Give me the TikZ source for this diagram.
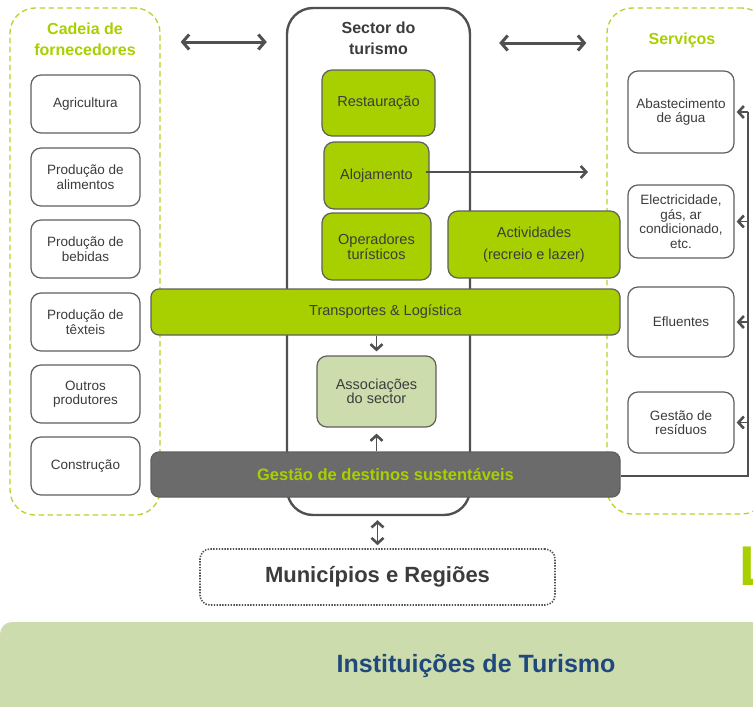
\documentclass[tikz,border=0pt]{standalone}
\usepackage{fontspec}
\setmainfont{Liberation Sans}
\usetikzlibrary{arrows.meta}
\definecolor{lime}{RGB}{168,207,0}
\definecolor{dashlime}{RGB}{178,212,40}
\definecolor{edge}{RGB}{95,95,95}
\definecolor{txt}{RGB}{60,60,60}
\definecolor{darkbar}{RGB}{107,107,107}
\definecolor{pale}{RGB}{205,220,173}
\definecolor{navy}{RGB}{31,73,125}
\definecolor{linegray}{RGB}{80,80,80}
\newcommand{\fsz}[2]{\fontsize{#1}{#2}\selectfont}
\begin{document}
\begin{tikzpicture}[x=1pt,y=-1pt,
  wbox/.style={draw=edge, line width=1.2pt, fill=white, rounded corners=10pt, inner sep=0pt, align=center, text=txt, font=\fsz{13.5}{14.5}},
  gbox/.style={draw=edge, line width=1.2pt, fill=lime, rounded corners=10pt, inner sep=0pt, align=center, text=txt, font=\fsz{14.5}{15}},
  container/.style={draw=dashlime, line width=1.3pt, dash pattern=on 5.5pt off 3.5pt, rounded corners=25pt, inner sep=0pt},
  title/.style={align=center, font=\bfseries\fsz{16}{21}, inner sep=0pt},
  bigbarb/.tip={Straight Barb[length=6.5pt,width=15pt,line width=3pt]},
  smallbarb/.tip={Straight Barb[length=5.5pt,width=12pt,line width=2.6pt]},
  dbl/.style={draw=linegray, line width=3pt, {bigbarb}-{bigbarb}},
  conn/.style={draw=linegray, line width=1.2pt},
  tip/.style={-{smallbarb}},
]
\useasboundingbox (0,0) rectangle (753,707);

% bottom band
\fill[pale, rounded corners=12pt] (0,622) rectangle (800,760);
\node[font=\bfseries\fsz{25}{28}, text=navy, inner sep=0pt] (inst) at (476,666) {Instituições de Turismo};

% containers
\node[container, minimum width=150pt, minimum height=507pt] (cadeia) at (85,261.5) {};
\node[container, minimum width=160pt, minimum height=506pt] (serv) at (687,261) {};
\node[draw=linegray, line width=2.4pt, fill=white, rounded corners=26pt, minimum width=183pt, minimum height=507pt, inner sep=0pt] (sector) at (378.5,261.5) {};

% titles
\node[title, text=lime] (tcadeia) at (85,39) {Cadeia de\\fornecedores};
\node[title, text=txt] (tsector) at (378.5,38) {Sector do\\turismo};
\node[title, text=lime] (tserv) at (682,40) {Serviços};

% left boxes
\node[wbox, minimum width=109pt, minimum height=58pt] (agri) at (85.5,104) {Agricultura};
\node[wbox, minimum width=109pt, minimum height=58pt] (alim) at (85.5,177) {Produção de\\alimentos};
\node[wbox, minimum width=109pt, minimum height=58pt] (bebi) at (85.5,249) {Produção de\\bebidas};
\node[wbox, minimum width=109pt, minimum height=58pt] (text) at (85.5,322) {Produção de\\têxteis};
\node[wbox, minimum width=109pt, minimum height=58pt] (outr) at (85.5,394) {Outros\\produtores};
\node[wbox, minimum width=109pt, minimum height=58pt] (cons) at (85.5,466) {Construção};

% right boxes
\node[wbox, minimum width=106pt, minimum height=82pt] (abast) at (681,112) {Abastecimento\\de água};
\node[wbox, minimum width=106pt, minimum height=73pt] (elec) at (681,221.5) {Electricidade,\\gás, ar\\condicionado,\\etc.};
\node[wbox, minimum width=106pt, minimum height=70pt] (eflu) at (681,322) {Efluentes};
\node[wbox, minimum width=106pt, minimum height=61pt] (resid) at (681,422.5) {Gestão de\\resíduos};

% sector boxes
\node[gbox, minimum width=113pt, minimum height=66pt] (rest) at (378.5,103) {Restauração};
\node[gbox, minimum width=105pt, minimum height=67pt] (aloj) at (376.5,175.5) {Alojamento};
\node[gbox, minimum width=109pt, minimum height=67pt] (oper) at (376.5,246.5) {Operadores\\turísticos};
\node[gbox, minimum width=172pt, minimum height=67pt, font=\fsz{14.5}{22}] (activ) at (534,244.5) {Actividades\\(recreio e lazer)};

% bars
\node[gbox, rounded corners=8pt, minimum width=469pt, minimum height=46pt] (transp) at (385.5,312) {Transportes \& Logística};
\node[draw=edge, line width=1.2pt, fill=darkbar, rounded corners=8pt, minimum width=469pt, minimum height=45pt, inner sep=0pt, text=lime, font=\bfseries\fsz{16.5}{18}] (gestao) at (385.5,474.5) {Gestão de destinos sustentáveis};
\node[draw=edge, line width=1.2pt, fill=pale, rounded corners=10pt, minimum width=119pt, minimum height=71pt, inner sep=0pt, align=center, text=txt, font=\fsz{14.5}{14.5}] (assoc) at (376.5,391.5) {Associações\\do sector};

% municipios
\node[draw=linegray, line width=1.6pt, dash pattern=on 1.4pt off 1.4pt, rounded corners=10pt, minimum width=355pt, minimum height=56pt, inner sep=0pt, text=txt, font=\bfseries\fsz{22}{24}] (muni) at (377.5,577) {Municípios e Regiões};

% partial letter at right edge
\node[anchor=base west, inner sep=0pt, text=lime, font=\bfseries\fsz{56}{60}] (lett) at (739,585) {L};

% connectors
\draw[dbl, shorten <=20pt, shorten >=19pt] (cadeia.east |- 0,42) -- (sector.west |- 0,42);
\draw[dbl, shorten <=28pt, shorten >=20pt] (sector.east |- 0,43) -- (serv.west |- 0,43);

\coordinate (alojend) at (588,172);
\draw[conn, tip] ([xshift=-4pt]aloj.east |- alojend) -- (alojend);

\draw[conn, tip, shorten >=4pt] (transp.south -| assoc.north) -- (assoc.north);
\draw[conn, tip, shorten >=6pt] (gestao.north -| assoc.south) -- (assoc.south);

\draw[conn, line width=1.8pt, {smallbarb}-{smallbarb}, shorten <=4pt, shorten >=3pt] (sector.south -| muni.north) -- (muni.north);

\coordinate (rbus) at (748,476);
\draw[conn] (gestao.east |- rbus) -- (rbus) -- (rbus |- abast.east);
\draw[conn, tip, shorten >=2pt] (rbus |- abast.east) -- (abast.east);
\draw[conn, tip, shorten >=2pt] (rbus |- elec.east) -- (elec.east);
\draw[conn, tip, shorten >=2pt] (rbus |- eflu.east) -- (eflu.east);
\draw[conn, tip, shorten >=2pt] (rbus |- resid.east) -- (resid.east);
\end{tikzpicture}
\end{document}
